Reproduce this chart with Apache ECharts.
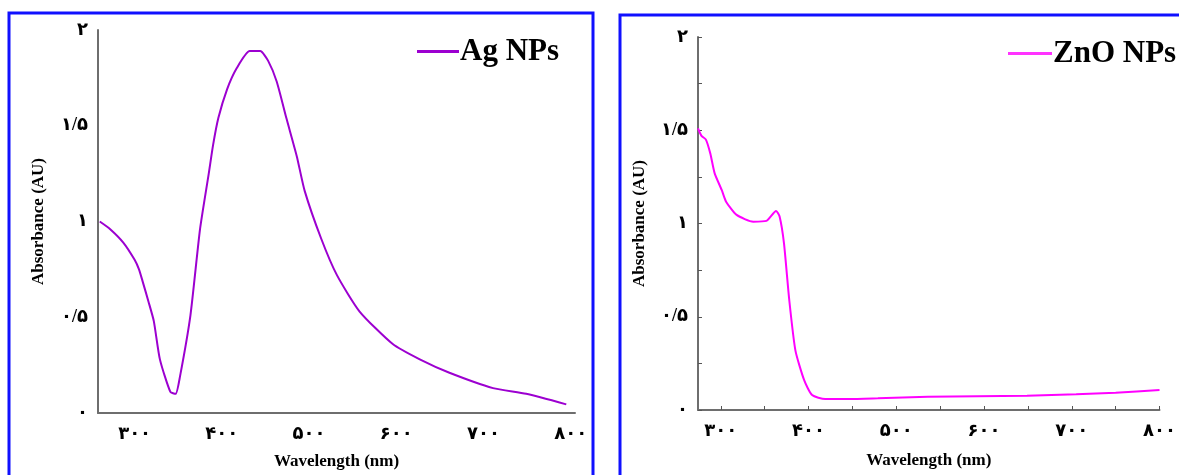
<!DOCTYPE html>
<html>
<head>
<meta charset="utf-8">
<script src="https://cdn.jsdelivr.net/npm/echarts@6/dist/echarts.min.js"></script>
<style>
  html, body { margin: 0; padding: 0; background: #fff; }
  #chart { width: 1179px; height: 475px; }
</style>
</head>
<body>
<div id="chart"></div>
<script>
// Ag NPs spectrum
const agWavelength = [260, 272, 287, 300, 305, 309, 316, 322, 329, 341, 347, 352, 364, 375, 385, 390, 396, 406, 417, 432, 444, 453, 463, 474, 486, 495, 514, 532, 558, 596, 627, 661, 711, 749, 795];
const agAbsorbance = [1.0, 0.96, 0.89, 0.8, 0.75, 0.69, 0.58, 0.48, 0.28, 0.11, 0.1, 0.19, 0.51, 0.96, 1.25, 1.4, 1.54, 1.69, 1.8, 1.89, 1.89, 1.84, 1.73, 1.54, 1.34, 1.16, 0.91, 0.72, 0.53, 0.36, 0.28, 0.21, 0.13, 0.1, 0.045];

// ZnO NPs spectrum
const znoWavelength = [274, 278, 283, 288, 293, 301, 306, 318, 337, 352, 363, 367, 372, 378, 385, 395, 404, 419, 446, 479, 536, 649, 705, 750, 800];
const znoAbsorbance = [1.51, 1.47, 1.45, 1.376, 1.269, 1.18, 1.117, 1.046, 1.01, 1.014, 1.067, 1.037, 0.893, 0.59, 0.32, 0.16, 0.08, 0.059, 0.059, 0.063, 0.071, 0.077, 0.084, 0.093, 0.107];

// tick labels (Persian digits as in the original)
const xTickValues = [300, 400, 500, 600, 700, 800];
const xTickLabels = ["۳۰۰", "۴۰۰", "۵۰۰", "۶۰۰", "۷۰۰", "۸۰۰"];
const xMinorTicks = [300, 350, 400, 450, 500, 550, 600, 650, 700, 750, 800];
const yTickValues = [0, 0.5, 1, 1.5, 2];
const yTickLabels = ["۰", "۰/۵", "۱", "۱/۵", "۲"];
const yMinorTicks = [0, 0.25, 0.5, 0.75, 1, 1.25, 1.5, 1.75, 2];

const pair = (xs, ys) => xs.map((x, i) => [x, ys[i]]);
const xLabel = (v) => xTickLabels[xTickValues.indexOf(v)] || "";
const yLabel = (v) => yTickLabels[yTickValues.indexOf(v)] || "";

const serif = "'Liberation Serif', 'DejaVu Serif', 'DejaVu Sans', serif";
const axisLine = { lineStyle: { color: "#6e6e6e", width: 2 } };
const labelStyle = { color: "#000", fontWeight: "bold", fontSize: 18, fontFamily: serif };
const nameStyle = { color: "#000", fontWeight: "bold", fontSize: 17, fontFamily: serif };

let myChart = echarts.init(document.getElementById("chart"));
let option = {
  backgroundColor: "#fff",
  animation: false,
  graphic: [
    // blue frames around both panels
    { type: "rect", shape: { x: 9, y: 13, width: 584, height: 520 }, style: { fill: null, stroke: "#1010ff", lineWidth: 3 } },
    { type: "rect", shape: { x: 620, y: 15, width: 620, height: 520 }, style: { fill: null, stroke: "#1010ff", lineWidth: 3 } },
  ],
  legend: [
    {
      data: ["Ag NPs"],
      left: 412,
      top: 31,
      icon: "rect",
      itemWidth: 42,
      itemHeight: 3,
      textStyle: { color: "#000", fontWeight: "bold", fontSize: 31, fontFamily: serif, padding: [0, 0, 0, -4] },
    },
    {
      data: ["ZnO NPs"],
      left: 1003,
      top: 33,
      icon: "rect",
      itemWidth: 44,
      itemHeight: 3,
      textStyle: { color: "#000", fontWeight: "bold", fontSize: 31, fontFamily: serif, padding: [0, 0, 0, -4] },
    },
  ],
  grid: [
    { left: 98, right: 604, top: 30, bottom: 58 },
    { left: 698, right: 15, top: 37, bottom: 65 },
  ],
  xAxis: [
    {
      type: "value",
      gridIndex: 0,
      min: 258,
      max: 805,
      name: "Wavelength (nm)",
      nameLocation: "middle",
      nameGap: 40,
      nameTextStyle: nameStyle,
      axisLine: axisLine,
      axisTick: { show: false },
      splitLine: { show: false },
      axisLabel: { ...labelStyle, customValues: xTickValues, formatter: xLabel, margin: 12 },
    },
    {
      type: "value",
      gridIndex: 1,
      min: 274,
      max: 800,
      name: "Wavelength (nm)",
      nameLocation: "middle",
      nameGap: 42,
      nameTextStyle: nameStyle,
      axisLine: axisLine,
      axisTick: { show: true, inside: true, length: 4, customValues: xMinorTicks, lineStyle: { color: "#555" } },
      splitLine: { show: false },
      axisLabel: { ...labelStyle, customValues: xTickValues, formatter: xLabel, margin: 12 },
    },
  ],
  yAxis: [
    {
      type: "value",
      gridIndex: 0,
      min: 0,
      max: 2,
      name: "Absorbance (AU)",
      nameLocation: "middle",
      nameGap: 51,
      nameTextStyle: nameStyle,
      axisLine: { show: true, ...axisLine },
      axisTick: { show: false },
      splitLine: { show: false },
      axisLabel: { ...labelStyle, customValues: yTickValues, formatter: yLabel, margin: 10 },
    },
    {
      type: "value",
      gridIndex: 1,
      min: 0,
      max: 2,
      name: "Absorbance (AU)",
      nameLocation: "middle",
      nameGap: 50,
      nameTextStyle: nameStyle,
      axisLine: { show: true, ...axisLine },
      axisTick: { show: true, inside: true, length: 4, customValues: yMinorTicks, lineStyle: { color: "#555" } },
      splitLine: { show: false },
      axisLabel: { ...labelStyle, customValues: yTickValues, formatter: yLabel, margin: 10 },
    },
  ],
  series: [
    {
      name: "Ag NPs",
      type: "line",
      xAxisIndex: 0,
      yAxisIndex: 0,
      data: pair(agWavelength, agAbsorbance),
      smooth: 0.2,
      showSymbol: false,
      itemStyle: { color: "#9c00d0" },
      lineStyle: { color: "#9c00d0", width: 2 },
    },
    {
      name: "ZnO NPs",
      type: "line",
      xAxisIndex: 1,
      yAxisIndex: 1,
      data: pair(znoWavelength, znoAbsorbance),
      smooth: 0.2,
      showSymbol: false,
      itemStyle: { color: "#ff33ff" },
      lineStyle: { color: "#ff00ff", width: 2 },
    },
  ],
};
myChart.setOption(option);
</script>
</body>
</html>
